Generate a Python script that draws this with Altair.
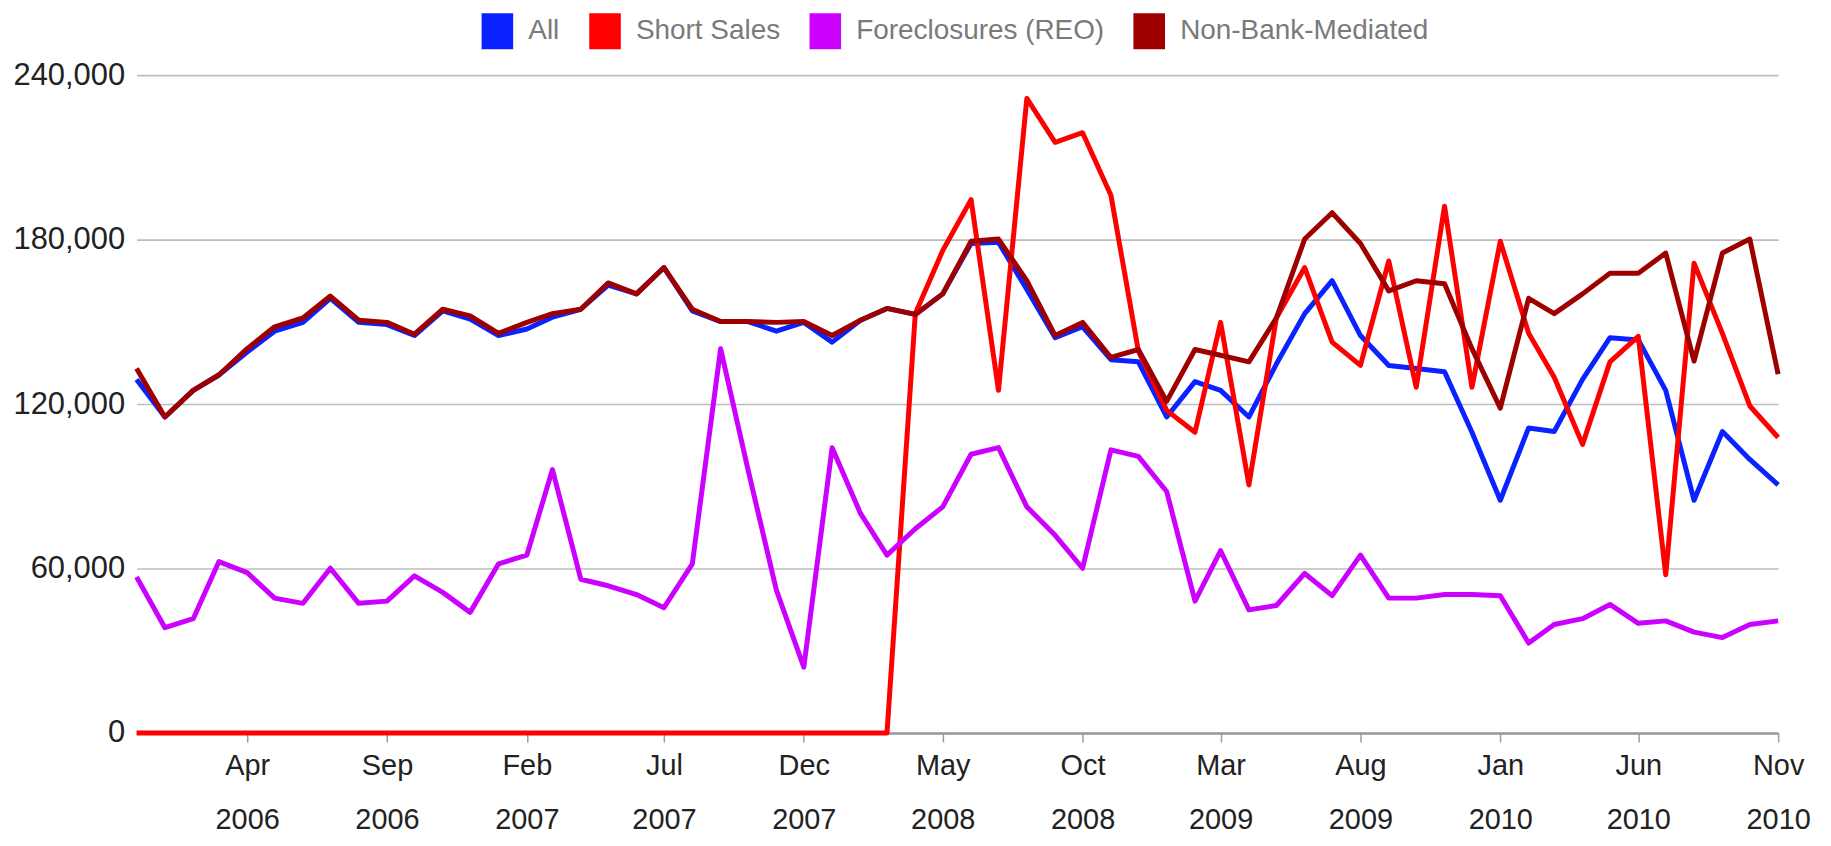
import altair as alt
import pandas as pd

# Monthly observations, Dec 2005 .. Nov 2010
months = pd.date_range("2005-12-01", periods=60, freq="MS").strftime("%Y-%m-%d").tolist()

series_names = ["All", "Short Sales", "Foreclosures (REO)", "Non-Bank-Mediated"]
series_colors = ["#0a22ff", "#ff0000", "#cc00ff", "#9e0000"]

all_sales = [129000, 115300, 125000, 130600, 139000, 146600, 149800, 158600, 149800, 149000,
             145000, 154000, 151000, 145000, 147400, 151700, 154600, 163400, 160200, 169800,
             154000, 150100, 150100, 146600, 149800, 142600, 150600, 154900, 152700, 160200,
             178600, 179000, 161800, 144200, 148200, 136200, 135400, 115300, 128200, 125000,
             115300, 134600, 153000, 165000, 145000, 134100, 133000, 131800, 109700, 84900,
             111300, 110000, 129000, 144200, 143400, 125000, 84900, 110000, 99800, 90500]

short_sales = [0, 0, 0, 0, 0, 0, 0, 0, 0, 0,
               0, 0, 0, 0, 0, 0, 0, 0, 0, 0,
               0, 0, 0, 0, 0, 0, 0, 0, 153000, 176000,
               194600, 125000, 231500, 215500, 219000, 196200, 139400, 117700, 109700, 149800,
               90500, 151400, 169800, 142600, 134100, 172200, 126100, 192200, 126100, 179400,
               145800, 129800, 105300, 135400, 144700, 57700, 171400, 145800, 119300, 107800]

foreclosures = [56900, 38400, 41700, 62500, 58500, 49200, 47300, 60100, 47300, 48100,
                57300, 51300, 44000, 61700, 64900, 96100, 56100, 53700, 50500, 45700,
                61700, 140200, 96000, 52100, 24000, 104100, 80100, 64900, 74500, 82500,
                101700, 104100, 82500, 72100, 60100, 103300, 100900, 88100, 48100, 66500,
                44900, 46500, 58200, 50100, 64900, 49200, 49200, 50500, 50500, 50100,
                32800, 39600, 41700, 46900, 40000, 40900, 36800, 34800, 39600, 40900]

non_bank = [133000, 115300, 125000, 130600, 140200, 148200, 151400, 159400, 150600, 149800,
            145500, 154600, 152200, 145800, 149800, 153000, 154600, 164200, 160200, 169800,
            154600, 150100, 150100, 149800, 150100, 145000, 150600, 154900, 152700, 160200,
            179400, 180200, 165000, 145000, 149800, 137000, 139900, 121000, 139900, 137800,
            135400, 151400, 180200, 189800, 178600, 161300, 165000, 163900, 140200, 118500,
            158600, 153000, 160200, 167700, 167700, 175100, 135700, 175100, 180200, 130900]

tick_months = [(2006, 4), (2006, 9), (2007, 2), (2007, 7), (2007, 12), (2008, 5),
               (2008, 10), (2009, 3), (2009, 8), (2010, 1), (2010, 6), (2010, 11)]
y_ticks = [0, 60000, 120000, 180000, 240000]

frames = []
for name, vals in zip(series_names, [all_sales, short_sales, foreclosures, non_bank]):
    frames.append(pd.DataFrame({"date": months, "value": vals, "series": name}))
df = pd.concat(frames, ignore_index=True)

FONT = "Liberation Sans"

x_enc = alt.X(
    "date:T",
    scale=alt.Scale(type="utc", nice=False,
                    domain=[alt.DateTime(year=2005, month=12, date=1, utc=True),
                            alt.DateTime(year=2010, month=11, date=1, utc=True)]),
    axis=alt.Axis(
        title=None,
        values=[alt.DateTime(year=y, month=m, date=1, utc=True) for y, m in tick_months],
        labelExpr="[utcFormat(datum.value, '%b'), utcFormat(datum.value, '%Y')]",
        labelFont=FONT, labelFontSize=29, labelColor="#222222",
        labelLineHeight=54, labelPadding=10, labelOverlap=False, labelFlush=False,
        grid=False, domain=True, domainColor="#9a9a9a", domainWidth=2.5,
        ticks=True, tickColor="#9a9a9a", tickSize=9, tickWidth=1.5,
    ),
)
y_enc = alt.Y(
    "value:Q",
    scale=alt.Scale(domain=[0, 240000], nice=False),
    axis=alt.Axis(
        title=None, values=y_ticks, format=",d",
        labelFont=FONT, labelFontSize=31, labelColor="#222222", labelPadding=12,
        domain=False, ticks=False, grid=True, gridColor="#bdbdbd", gridWidth=1.6,
    ),
)

lines = alt.Chart(df).mark_line(strokeWidth=5, strokeJoin="round").encode(
    x=x_enc, y=y_enc,
    color=alt.Color("series:N", scale=alt.Scale(domain=series_names, range=series_colors),
                    legend=None, sort=series_names),
)

legend_marks = alt.Chart(df).mark_square(size=0, filled=True, opacity=1).encode(
    x=x_enc, y=y_enc,
    color=alt.Color(
        "series:N", scale=alt.Scale(domain=series_names, range=series_colors),
        sort=series_names,
        legend=alt.Legend(
            title=None, orient="none", legendX=344, legendY=-62,
            direction="horizontal", columns=4,
            symbolType="M-0.88,-1H0.88V1H-0.88Z", symbolSize=1296,
            symbolStrokeWidth=0,
            labelFont=FONT, labelFontSize=28, labelColor="#7a7a7a",
            labelOffset=13, columnPadding=27, labelLimit=500,
        ),
    ),
)

chart = alt.layer(lines, legend_marks).resolve_scale(
    color="independent"
).resolve_legend(
    color="independent"
).properties(
    width=1647, height=660,
    padding={"left": 129, "top": 66, "right": 45, "bottom": 104},
    autosize=alt.AutoSizeParams(type="none"),
).configure_view(stroke=None)

chart.save("out.html", embed_options={"renderer": "svg", "actions": False})
